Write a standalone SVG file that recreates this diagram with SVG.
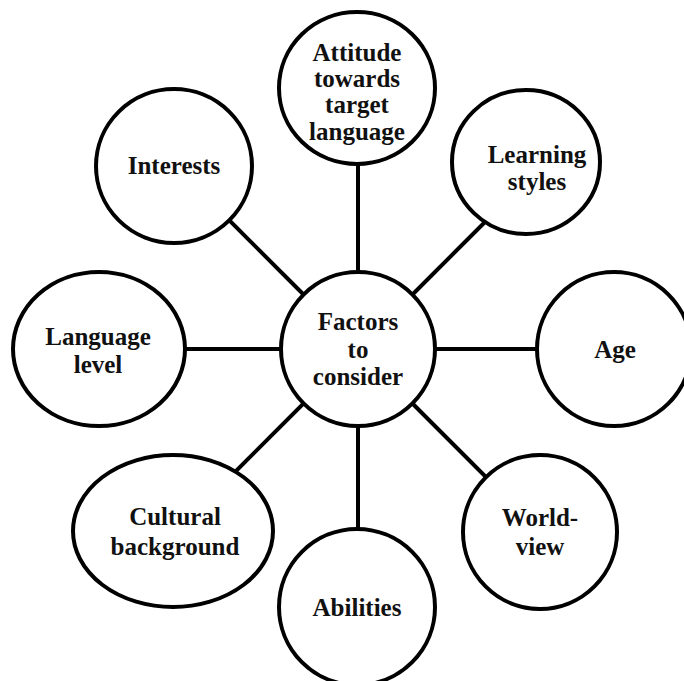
<svg xmlns="http://www.w3.org/2000/svg" width="684" height="681" viewBox="0 0 684 681">
  <style>
    .node { fill: #ffffff; stroke: #000000; stroke-width: 4; }
    .link { stroke: #000000; stroke-width: 4; fill: none; }
    .label { font-family: "Liberation Serif", "Times New Roman", serif; font-weight: bold; font-size: 25px; fill: #111111; text-anchor: middle; }
  </style>
  <rect width="684" height="681" fill="#ffffff"/>

  <!-- spokes from the hub to every factor -->
  <g id="connectors">
    <line class="link" x1="358" y1="349" x2="358" y2="120"/>
    <line class="link" x1="358" y1="349" x2="500" y2="207"/>
    <line class="link" x1="358" y1="349" x2="580" y2="349"/>
    <line class="link" x1="358" y1="349" x2="510" y2="501"/>
    <line class="link" x1="358" y1="349" x2="358" y2="580"/>
    <line class="link" x1="358" y1="349" x2="210" y2="497"/>
    <line class="link" x1="358" y1="349" x2="140" y2="349"/>
    <line class="link" x1="358" y1="349" x2="200" y2="191"/>
  </g>

  <g id="node-attitude">
    <ellipse class="node" cx="357" cy="88" rx="78" ry="76"/>
    <text class="label" x="357" y="61">Attitude</text>
    <text class="label" x="357" y="87">towards</text>
    <text class="label" x="357" y="113">target</text>
    <text class="label" x="357" y="140">language</text>
  </g>

  <g id="node-learning-styles">
    <ellipse class="node" cx="526" cy="162" rx="74" ry="72"/>
    <text class="label" x="537" y="163">Learning</text>
    <text class="label" x="537" y="190">styles</text>
  </g>

  <g id="node-age">
    <ellipse class="node" cx="614" cy="349" rx="77" ry="77"/>
    <text class="label" x="615" y="358">Age</text>
  </g>

  <g id="node-world-view">
    <ellipse class="node" cx="540" cy="532" rx="77" ry="77"/>
    <text class="label" x="540" y="526">World-</text>
    <text class="label" x="540" y="555">view</text>
  </g>

  <g id="node-abilities">
    <ellipse class="node" cx="357" cy="607" rx="78" ry="78"/>
    <text class="label" x="357" y="616">Abilities</text>
  </g>

  <g id="node-cultural-background">
    <ellipse class="node" cx="173" cy="531" rx="100" ry="76"/>
    <text class="label" x="175" y="525">Cultural</text>
    <text class="label" x="175" y="555">background</text>
  </g>

  <g id="node-language-level">
    <ellipse class="node" cx="99" cy="349" rx="86" ry="77"/>
    <text class="label" x="98" y="345">Language</text>
    <text class="label" x="98" y="373">level</text>
  </g>

  <g id="node-interests">
    <ellipse class="node" cx="174" cy="166" rx="78" ry="77"/>
    <text class="label" x="174" y="174">Interests</text>
  </g>

  <g id="node-factors">
    <circle class="node" cx="358" cy="349" r="77"/>
    <text class="label" x="358" y="330">Factors</text>
    <text class="label" x="358" y="358">to</text>
    <text class="label" x="358" y="385">consider</text>
  </g>
</svg>
